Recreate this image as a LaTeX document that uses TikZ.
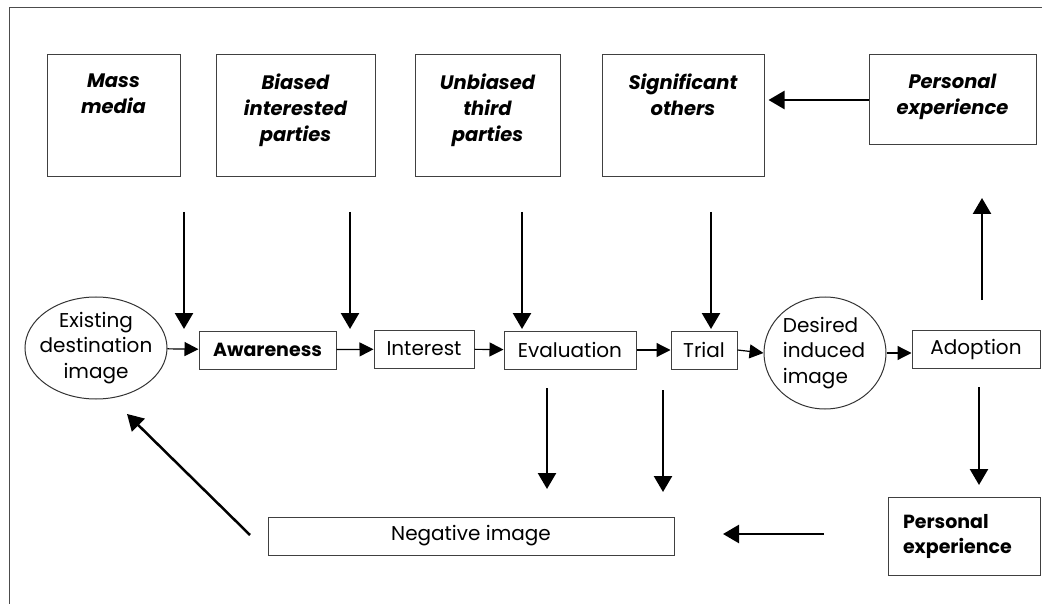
\documentclass[tikz,border=0pt]{standalone}
\usepackage{fontspec}
\setmainfont{Poppins}
\usetikzlibrary{arrows.meta,positioning,shapes.geometric}

\begin{document}
\begin{tikzpicture}[
  x=1pt, y=-1pt,
  font=\fontsize{20}{25.5}\selectfont,
  frame/.style={draw=black!70, line width=1pt},
  srcbox/.style={draw=black!75, line width=1pt, minimum height=122pt, inner sep=0pt},
  srctext/.style={anchor=north, yshift=-19pt, align=center, inner sep=0pt, font=\fontsize{19.5}{26}\selectfont\bfseries\itshape},
  stagebox/.style={draw=black!75, line width=1pt, minimum height=38pt, inner sep=0pt},
  imagebubble/.style={ellipse, draw=black!80, line width=1pt, inner sep=0pt},
  midtext/.style={align=center, inner sep=0pt},
  arrow/.style={-{Triangle[width=18pt,length=16pt]}, line width=2.5pt},
  chain/.style={-{Triangle[width=14pt,length=14pt]}, line width=1.2pt}
]
\useasboundingbox (0,0) rectangle (1042,604);

% Frame
\draw[frame] (9,604) -- (9,8) -- (1042,8);

% Information sources
\node[srcbox, minimum width=133pt, label={[srctext]north:Mass\\media}] (media) at (113.5,116) {};
\node[srcbox, minimum width=159pt, label={[srctext]north:Biased\\interested\\parties}] (biased) at (295.5,116) {};
\node[srcbox, minimum width=145pt, label={[srctext]north:Unbiased\\third\\parties}] (unbiased) at (487.5,116) {};
\node[srcbox, minimum width=162pt, label={[srctext]north:Significant\\others}] (signif) at (683,116) {};
\node[srcbox, minimum width=167pt, minimum height=90pt, label={[srctext]north:Personal\\experience}] (pexp) at (952.5,100) {};

% Adoption stages
\node[imagebubble, minimum width=142pt, minimum height=102pt, label={[midtext]center:Existing\\destination\\image}] (exist) at (96,348) {};
\node[stagebox, minimum width=137pt, font=\fontsize{19}{26}\selectfont\bfseries] (aware) at (267.5,350) {Awareness};
\node[stagebox, minimum width=100pt] (interest) at (424,349) {Interest};
\node[stagebox, minimum width=132pt] (eval) at (570,350) {Evaluation};
\node[stagebox, minimum width=66pt] (trial) at (704,350) {Trial};
\node[imagebubble, minimum width=122pt, minimum height=112pt, label={[midtext, align=left, xshift=-1pt]center:Desired\\induced\\image}] (desired) at (825,353) {};
\node[stagebox, minimum width=128pt] (adopt) at (976,349) {Adoption};

% Outcomes
\node[stagebox, minimum width=406pt] (neg) at (471,536) {Negative image};
\node[stagebox, minimum width=152pt, minimum height=78pt, text width=122pt, align=left, font=\fontsize{19}{25}\selectfont\bfseries] (pexp2) at (964,536) {\raisebox{6pt}{\parbox{122pt}{Personal\\experience}}};

% Arrow ends
\coordinate (mediaA) at (184,212);   \coordinate (mediaB) at (184,329);
\coordinate (biasedA) at (350,212);  \coordinate (biasedB) at (350,329);
\coordinate (unbiasA) at (522,212);  \coordinate (unbiasB) at (522,329);
\coordinate (signifA) at (711,212);  \coordinate (signifB) at (711,329);
\coordinate (evalA) at (547,388);    \coordinate (evalB) at (547,489);
\coordinate (trialA) at (663,390);   \coordinate (trialB) at (663,492);
\coordinate (adoptA) at (982,300);   \coordinate (adoptB) at (982,198);
\coordinate (adoptC) at (979,387);   \coordinate (adoptD) at (979,485);
\coordinate (pexpA) at (824,534);    \coordinate (pexpB) at (723,534);
\coordinate (negA) at (250,535);     \coordinate (negB) at (127,414);

% Chain arrows
\draw[chain] (exist) -- (aware);
\draw[chain] (aware) -- (interest);
\draw[chain] (interest) -- (eval);
\draw[chain] (eval) -- (trial);
\draw[chain] (trial.east) -- (desired.west);
\draw[chain] (desired.east) -- (adopt.west |- desired.east);

% Source arrows
\draw[arrow] (mediaA) -- (mediaB);
\draw[arrow] (biasedA) -- (biasedB);
\draw[arrow] (unbiasA) -- (unbiasB);
\draw[arrow] (signifA) -- (signifB);
\draw[arrow] (pexp.west) -- ([xshift=4pt]signif.east |- pexp.west);

% Feedback arrows
\draw[arrow] (adoptA) -- (adoptB);
\draw[arrow] (adoptC) -- (adoptD);
\draw[arrow] (evalA) -- (evalB);
\draw[arrow] (trialA) -- (trialB);
\draw[arrow] (pexpA) -- (pexpB);
\draw[arrow] (negA) -- (negB);

\end{tikzpicture}
\end{document}
